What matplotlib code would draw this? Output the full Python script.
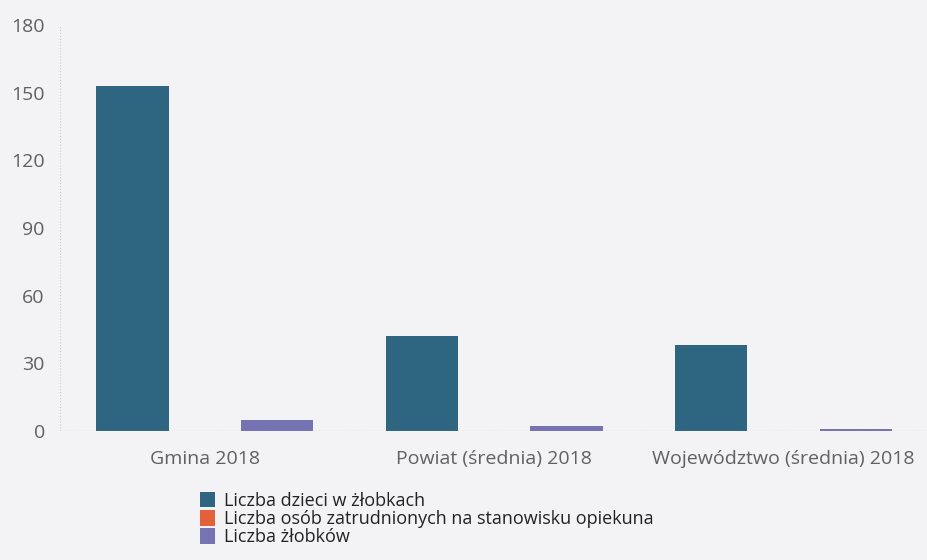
import matplotlib
matplotlib.use("Agg")
import matplotlib.pyplot as plt
import numpy as np

categories = ["Gmina 2018", "Powiat (średnia) 2018", "Województwo (średnia) 2018"]
series_names = ["Liczba dzieci w żłobkach",
                "Liczba osób zatrudnionych na stanowisku opiekuna",
                "Liczba żłobków"]
dzieci = [153, 42, 38]
opiekunowie = [0, 0, 0]
zlobki = [5, 2, 1]
colors = ["#2e6681", "#e4603a", "#7673b2"]
yticks = [0, 30, 60, 90, 120, 150, 180]

plt.rcParams['font.family'] = ['Open Sans', 'DejaVu Sans']
bg = "#f3f3f5"
fig = plt.figure(figsize=(9.28, 5.6), dpi=100, facecolor=bg)
ax = fig.add_axes([0.0647, 0.2304, 0.9353, 0.725])
ax.set_facecolor(bg)

x = np.arange(len(categories))
w = 0.25
for i, (vals, name) in enumerate(zip([dzieci, opiekunowie, zlobki], series_names)):
    ax.bar(x + (i - 1) * w, vals, width=w, color=colors[i], label=name, zorder=3)

ax.set_xlim(-0.5, len(categories) - 0.5)
ax.set_ylim(0, 180)
ax.set_yticks(yticks)
ax.set_xticks(x)
ax.set_xticklabels(categories)
for s in ax.spines.values():
    s.set_visible(False)
ax.axvline(-0.5, color="#c8c8cc", lw=0.8, ls=":", zorder=1)
ax.axhline(0, color="#aaaaae", lw=0.9, ls=":", zorder=4)
ax.tick_params(axis='both', length=0, labelsize=14, colors="#606060")
ax.tick_params(axis='y', pad=11)
ax.tick_params(axis='x', pad=14)

fig.legend(loc='upper left', bbox_to_anchor=(0.215, 0.122), frameon=False,
           fontsize=13, handlelength=0.85, handleheight=0.95, handletextpad=0.5,
           labelspacing=0.02, borderaxespad=0, borderpad=0, labelcolor="#222222")

fig.savefig("out.png", dpi=100, facecolor=bg)
